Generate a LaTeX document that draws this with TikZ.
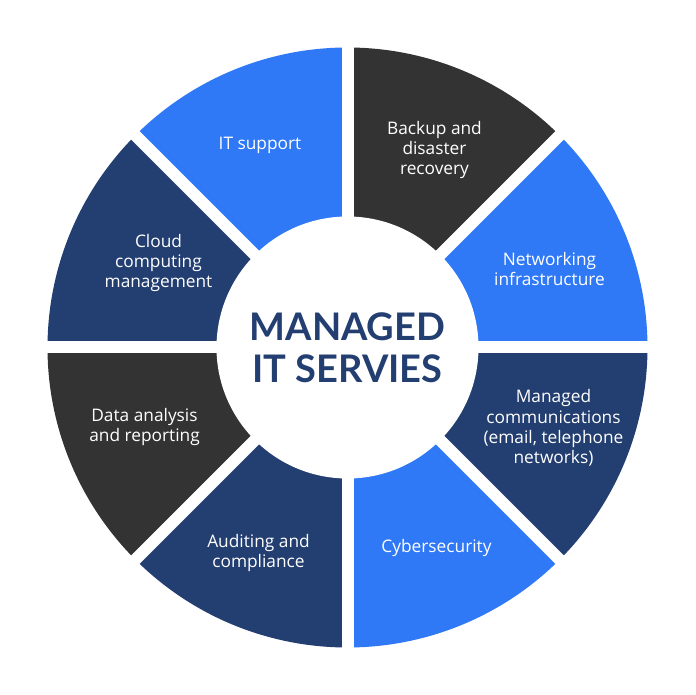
\documentclass[tikz,border=0pt]{standalone}
\usepackage{fontspec}
\setmainfont{Lato}
\newfontfamily\lblfont{Open Sans}
\definecolor{itblue}{HTML}{2F78F6}
\definecolor{itnavy}{HTML}{233E70}
\definecolor{itdark}{HTML}{333333}
\begin{document}
\begin{tikzpicture}[x=1pt,y=1pt,
  gapline/.style={draw=white,line width=12pt},
  lbl/.style={text=white,align=center,inner sep=0pt,font=\lblfont\fontsize{17.3}{20.2}\selectfont},
  ttl/.style={text=itnavy,align=center,font=\fontsize{38}{42}\selectfont\bfseries}]
\useasboundingbox[fill=white] (-347.5,-347.5) rectangle (347.5,347.5);
% sectors
\fill[itblue] (0,0) -- (0:300) arc[start angle=0,end angle=45,radius=300] -- cycle;
\fill[itdark] (0,0) -- (45:300) arc[start angle=45,end angle=90,radius=300] -- cycle;
\fill[itblue] (0,0) -- (90:300) arc[start angle=90,end angle=135,radius=300] -- cycle;
\fill[itnavy] (0,0) -- (135:300) arc[start angle=135,end angle=180,radius=300] -- cycle;
\fill[itdark] (0,0) -- (180:300) arc[start angle=180,end angle=225,radius=300] -- cycle;
\fill[itnavy] (0,0) -- (225:300) arc[start angle=225,end angle=270,radius=300] -- cycle;
\fill[itblue] (0,0) -- (270:300) arc[start angle=270,end angle=315,radius=300] -- cycle;
\fill[itnavy] (0,0) -- (315:300) arc[start angle=315,end angle=360,radius=300] -- cycle;
% gaps
\foreach \a in {0,45,90,135} {
  \draw[gapline] (\a:-310) -- (\a:310);
}
\fill[white] (0,0) circle[radius=131];
% labels
\node[lbl] (its) at (-87.5,202.5) {IT support};
\node[lbl] (bak) at (87,197.5) {Backup and\\disaster\\recovery};
\node[lbl] (net) at (202,78.5) {Networking\\infrastructure};
\node[lbl] (com) at (206,-80.5) {Managed\\communications\\(email, telephone\\networks)};
\node[lbl] (cyb) at (89,-200.5) {Cybersecurity};
\node[lbl] (aud) at (-89,-205.5) {Auditing and\\compliance};
\node[lbl] (dat) at (-203,-79.5) {Data analysis\\and reporting};
\node[lbl] (clo) at (-189,84.5) {Cloud\\computing\\management};
\node[ttl] (title) at (0,0) {MANAGED\\IT SERVIES};
\end{tikzpicture}
\end{document}
